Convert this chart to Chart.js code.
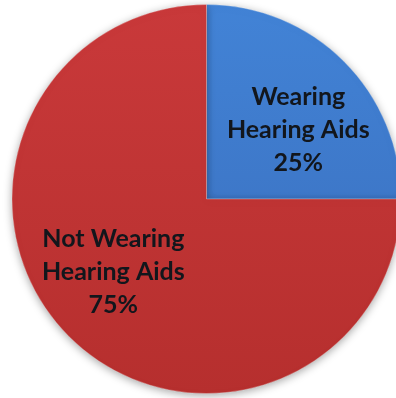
<!DOCTYPE html>
<html>
<head>
<meta charset="utf-8">
<script src="https://cdn.jsdelivr.net/npm/chart.js@4/dist/chart.umd.min.js"></script>
<style>
    html, body { margin: 0; padding: 0; background: #fff; overflow: hidden; }
    #wrap { position: absolute; left: 0; top: 0; width: 413px; height: 398px; }
</style>
</head>
<body>
<div id="wrap"><canvas id="hearingChart"></canvas></div>
<script>
// Share of people wearing hearing aids
const categories = ['Wearing Hearing Aids', 'Not Wearing Hearing Aids'];
const labelLines = [['Wearing', 'Hearing Aids'], ['Not Wearing', 'Hearing Aids']];
const shares = [25, 75];

// top / bottom colours of each slice gradient
const sliceColors = [
    ['#4283d6', '#396cbb'],
    ['#c9393a', '#b62f2e']
];

// label anchors, as a fraction of the pie radius from its centre
const labelAnchors = [[0.472, -0.354], [-0.479, 0.377]];

function sliceGradient(context) {
    const chart = context.chart;
    const area = chart.chartArea;
    if (!area) return sliceColors[context.dataIndex][0];
    const g = chart.ctx.createLinearGradient(0, area.top, 0, area.bottom);
    g.addColorStop(0, sliceColors[context.dataIndex][0]);
    g.addColorStop(1, sliceColors[context.dataIndex][1]);
    return g;
}

// soft drop shadow behind the pie
const pieShadow = {
    id: 'pieShadow',
    beforeDatasetsDraw(chart) {
        const ctx = chart.ctx;
        ctx.save();
        ctx.shadowColor = 'rgba(0, 0, 0, 0.35)';
        ctx.shadowBlur = 9;
        ctx.shadowOffsetX = 0;
        ctx.shadowOffsetY = 2;
    },
    afterDatasetsDraw(chart) {
        chart.ctx.restore();
    }
};

// category name and percentage written inside each slice
const sliceLabels = {
    id: 'sliceLabels',
    afterDatasetsDraw(chart) {
        const ctx = chart.ctx;
        const meta = chart.getDatasetMeta(0);
        const total = shares.reduce((a, b) => a + b, 0);
        ctx.save();
        ctx.fillStyle = '#12161c';
        ctx.font = 'bold 25px Lato';
        ctx.textAlign = 'center';
        ctx.textBaseline = 'middle';
        meta.data.forEach((arc, i) => {
            const r = arc.outerRadius;
            const cx = arc.x + labelAnchors[i][0] * r;
            const cy = arc.y + labelAnchors[i][1] * r;
            const lines = labelLines[i].concat([Math.round(shares[i] / total * 100) + '%']);
            const lineHeight = 33;
            lines.forEach((line, k) => {
                ctx.fillText(line, cx, cy + (k - (lines.length - 1) / 2) * lineHeight);
            });
        });
        ctx.restore();
    }
};

const ctx = document.getElementById('hearingChart').getContext('2d');
new Chart(ctx, {
    type: 'pie',
    data: {
        labels: categories,
        datasets: [{
            data: shares,
            backgroundColor: sliceGradient,
            borderColor: 'rgba(255, 255, 255, 0.25)',
            borderWidth: 1
        }]
    },
    options: {
        responsive: true,
        maintainAspectRatio: false,
        animation: false,
        layout: {
            padding: { left: 11.5, right: 11.5, top: 4, bottom: 4 }
        },
        plugins: {
            legend: { display: false },
            tooltip: { enabled: false }
        }
    },
    plugins: [pieShadow, sliceLabels]
});
</script>
</body>
</html>
